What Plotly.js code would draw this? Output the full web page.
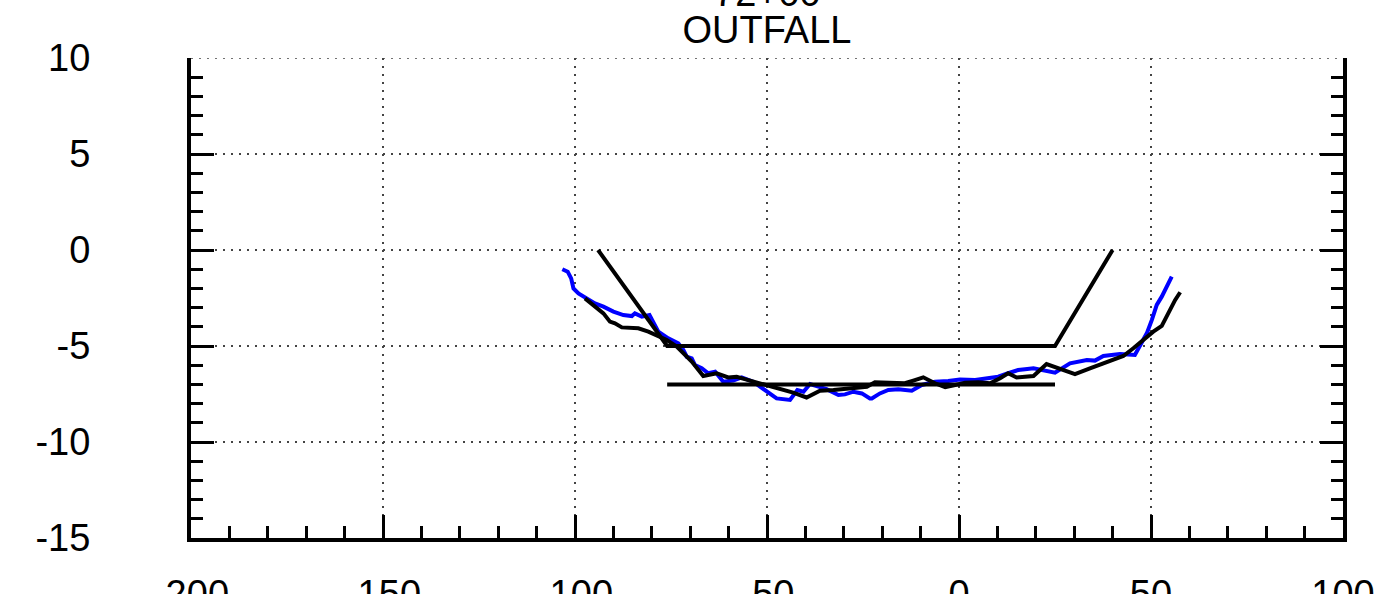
<!DOCTYPE html>
<html>
<head>
<meta charset="utf-8">
<script src="https://cdn.plot.ly/plotly-3.0.1.min.js"></script>
<style>
  html, body { margin: 0; padding: 0; background: #fff; }
  #chart { width: 1377px; height: 594px; }
</style>
</head>
<body>
<div id="chart"></div>
<script>
// Survey profile (blue)
const blueX = [-103.3, -101.9, -101.0, -100.4, -99.1, -97.0, -94.8, -92.6, -90.0, -87.4, -85.2, -84.4, -82.6, -80.6, -79.6, -78.3, -75.7, -73.1, -71.8, -70.9, -69.6, -68.75, -67.0, -65.3, -63.5, -61.4, -58.8, -56.6, -53.6, -50.5, -47.5, -44.0, -42.1, -40.5, -38.8, -36.6, -34.5, -31.4, -29.7, -27.5, -25.3, -23.2, -22.7, -20.6, -18.4, -15.8, -12.3, -9.7, -6.25, -2.8, 0.26, 4.2, 7.6, 10.2, 12.8, 15.4, 17.2, 19.4, 25.0, 28.9, 33.3, 35.4, 37.6, 41.9, 45.8, 47.6, 48.9, 50.2, 51.5, 52.8, 54.1, 55.4];
const blueY = [-1.0, -1.13, -1.48, -2.0, -2.26, -2.5, -2.78, -2.95, -3.21, -3.39, -3.44, -3.30, -3.47, -3.39, -3.73, -4.25, -4.6, -4.86, -5.2, -5.56, -5.64, -5.99, -6.16, -6.42, -6.34, -6.86, -6.8, -6.63, -6.86, -7.29, -7.73, -7.81, -7.29, -7.38, -6.98, -7.12, -7.25, -7.55, -7.52, -7.38, -7.47, -7.73, -7.73, -7.47, -7.29, -7.25, -7.33, -7.03, -6.86, -6.82, -6.74, -6.77, -6.7, -6.6, -6.42, -6.25, -6.21, -6.16, -6.39, -5.9, -5.73, -5.76, -5.52, -5.42, -5.47, -4.86, -4.34, -3.65, -2.86, -2.43, -1.91, -1.39];

// Survey profile (black)
const blackX = [-97.4, -94.8, -92.6, -90.9, -89.6, -87.8, -85.7, -83.5, -80.9, -78.3, -76.1, -73.5, -71.8, -69.6, -66.6, -64.0, -63.1, -60.1, -57.9, -54.4, -50.1, -46.6, -43.2, -39.7, -36.2, -32.7, -28.4, -24.0, -21.9, -18.0, -14.1, -11.9, -9.3, -6.25, -3.6, -1.0, 1.6, 5.0, 8.1, 10.7, 12.8, 15.0, 17.6, 19.4, 22.8, 26.3, 30.2, 34.1, 38.5, 42.8, 45.4, 48.0, 50.6, 52.8, 54.9, 56.3, 57.6];
const blackY = [-2.52, -2.95, -3.3, -3.73, -3.82, -4.03, -4.08, -4.08, -4.25, -4.48, -4.69, -5.03, -5.38, -5.81, -6.56, -6.42, -6.42, -6.64, -6.6, -6.8, -7.03, -7.25, -7.43, -7.68, -7.33, -7.29, -7.2, -7.12, -6.89, -6.94, -6.94, -6.8, -6.63, -6.94, -7.15, -7.03, -6.91, -6.89, -6.94, -6.68, -6.42, -6.64, -6.6, -6.56, -5.94, -6.21, -6.46, -6.16, -5.81, -5.52, -5.12, -4.65, -4.25, -3.95, -3.12, -2.6, -2.2];

// Design channel template
const designX = [-94, -76, 25, 40];
const designY = [0, -5, -5, 0];

// Lower grade line
const gradeX = [-76, 25];
const gradeY = [-7, -7];

// Axis ticks
const xRange = [-200, 100];
const yRange = [-15, 10];
const xTickVals = [-200, -150, -100, -50, 0, 50, 100];
const xTickText = ["-200", "-150", "-100", "-50", "0", "50", "100"];
const yTickVals = [-15, -10, -5, 0, 5, 10];
const yTickText = ["-15", "-10", "-5", "0", "5", "10"];

const titleTop = "72+00";
const titleMain = "OUTFALL";

const lineW = 4;
const traces = [
  { x: blueX, y: blueY, type: 'scatter', mode: 'lines', line: { color: '#0000ff', width: lineW }, showlegend: false },
  { x: blackX, y: blackY, type: 'scatter', mode: 'lines', line: { color: '#000000', width: lineW }, showlegend: false },
  { x: designX, y: designY, type: 'scatter', mode: 'lines', line: { color: '#000000', width: lineW }, showlegend: false },
  { x: gradeX, y: gradeY, type: 'scatter', mode: 'lines', line: { color: '#000000', width: lineW }, showlegend: false }
];

const font = { family: '"Liberation Sans", Arial, sans-serif', size: 38, color: '#000' };
const gridDash = '2px,6px';

const layout = {
  width: 1377, height: 594,
  margin: { l: 191, r: 34, t: 58, b: 56, pad: 0 },
  paper_bgcolor: '#fff', plot_bgcolor: '#fff',
  font: font,
  showlegend: false,
  title: { text: titleMain, font: font, x: 0.5, xanchor: 'center', xref: 'paper', y: 1, yref: 'paper', yanchor: 'bottom', pad: { b: 15 } },
  annotations: [
    { text: titleTop, xref: 'paper', yref: 'paper', x: 0.5, y: 1.088, xanchor: 'center', yanchor: 'bottom', showarrow: false, font: font }
  ],
  shapes: [
    { type: 'line', xref: 'paper', yref: 'y', x0: 0, x1: 1, y0: yRange[1], y1: yRange[1], line: { color: '#444', width: 1.5, dash: gridDash }, layer: 'below' }
  ],
  xaxis: {
    range: xRange, tickvals: xTickVals, ticktext: xTickText,
    ticks: 'inside', ticklen: 23, tickwidth: 3, tickcolor: '#000',
    showline: true, linewidth: 4, linecolor: '#000', mirror: false,
    showgrid: true, gridcolor: '#444', gridwidth: 1.5, griddash: gridDash,
    zeroline: false, ticklabelstandoff: 19, tickfont: font,
    minor: { dtick: 10, ticks: 'inside', ticklen: 12, tickwidth: 3, tickcolor: '#000', showgrid: false }
  },
  yaxis: {
    range: yRange, tickvals: yTickVals, ticktext: yTickText,
    ticks: 'inside', ticklen: 23, tickwidth: 3, tickcolor: '#000',
    showline: true, linewidth: 4, linecolor: '#000', mirror: 'ticks',
    showgrid: true, gridcolor: '#444', gridwidth: 1.5, griddash: gridDash,
    zeroline: false, ticklabelstandoff: 89, tickfont: font,
    minor: { dtick: 1, ticks: 'inside', ticklen: 12, tickwidth: 3, tickcolor: '#000', showgrid: false }
  }
};

Plotly.newPlot('chart', traces, layout, { displayModeBar: false, staticPlot: true });
</script>
</body>
</html>
